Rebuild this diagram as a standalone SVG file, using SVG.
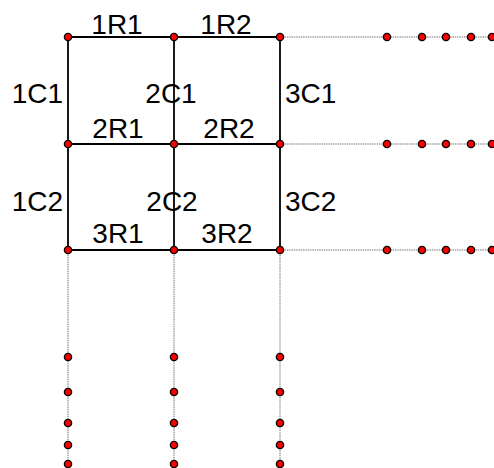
<svg xmlns="http://www.w3.org/2000/svg" width="494" height="468" viewBox="0 0 494 468">
<style>
.grid{stroke:#000;stroke-width:1.8;fill:none}
.ext{stroke:#777;stroke-width:1;stroke-dasharray:1.5 0.8;fill:none}
.dot{fill:#ff0000;stroke:#000;stroke-width:1.4}
text{font-family:"Liberation Sans",Arial,sans-serif;font-size:28px;fill:#000}
.m{text-anchor:middle}
.e{text-anchor:end}
</style>
<rect width="494" height="468" fill="#fff"/>
<g id="connectors">
<line class="ext" x1="280" y1="37" x2="494" y2="37"/>
<line class="ext" x1="280" y1="144" x2="494" y2="144"/>
<line class="ext" x1="280" y1="250" x2="494" y2="250"/>
<line class="ext" x1="68" y1="250" x2="68" y2="468"/>
<line class="ext" x1="174" y1="250" x2="174" y2="468"/>
<line class="ext" x1="280" y1="250" x2="280" y2="468"/>
<line class="grid" x1="68" y1="37" x2="280" y2="37"/>
<line class="grid" x1="68" y1="144" x2="280" y2="144"/>
<line class="grid" x1="68" y1="250" x2="280" y2="250"/>
<line class="grid" x1="68" y1="37" x2="68" y2="250"/>
<line class="grid" x1="174" y1="37" x2="174" y2="250"/>
<line class="grid" x1="280" y1="37" x2="280" y2="250"/>
<text class="m" x="117" y="34">1R1</text>
<text class="m" x="226" y="34">1R2</text>
<text class="m" x="118" y="138">2R1</text>
<text class="m" x="229" y="138">2R2</text>
<text class="m" x="118" y="243">3R1</text>
<text class="m" x="227" y="243">3R2</text>
<text class="e" x="63" y="103">1C1</text>
<text class="m" x="171" y="103">2C1</text>
<text x="285" y="103">3C1</text>
<text class="e" x="63" y="211">1C2</text>
<text class="m" x="172" y="211">2C2</text>
<text x="285" y="211">3C2</text>
</g>
<g id="n-r1c1"><circle class="dot" cx="68" cy="37" r="3.6"/></g>
<g id="n-r1c2"><circle class="dot" cx="174" cy="37" r="3.6"/></g>
<g id="n-r1c3"><circle class="dot" cx="280" cy="37" r="3.6"/></g>
<g id="n-r2c1"><circle class="dot" cx="68" cy="144" r="3.6"/></g>
<g id="n-r2c2"><circle class="dot" cx="174" cy="144" r="3.6"/></g>
<g id="n-r2c3"><circle class="dot" cx="280" cy="144" r="3.6"/></g>
<g id="n-r3c1"><circle class="dot" cx="68" cy="250" r="3.6"/></g>
<g id="n-r3c2"><circle class="dot" cx="174" cy="250" r="3.6"/></g>
<g id="n-r3c3"><circle class="dot" cx="280" cy="250" r="3.6"/></g>
<g id="n-right-r1"><circle class="dot" cx="387" cy="37" r="3.6"/><circle class="dot" cx="422" cy="37" r="3.6"/><circle class="dot" cx="446" cy="37" r="3.6"/><circle class="dot" cx="471" cy="37" r="3.6"/><circle class="dot" cx="492" cy="37" r="3.6"/></g>
<g id="n-right-r2"><circle class="dot" cx="387" cy="144" r="3.6"/><circle class="dot" cx="422" cy="144" r="3.6"/><circle class="dot" cx="446" cy="144" r="3.6"/><circle class="dot" cx="471" cy="144" r="3.6"/><circle class="dot" cx="492" cy="144" r="3.6"/></g>
<g id="n-right-r3"><circle class="dot" cx="387" cy="250" r="3.6"/><circle class="dot" cx="422" cy="250" r="3.6"/><circle class="dot" cx="446" cy="250" r="3.6"/><circle class="dot" cx="471" cy="250" r="3.6"/><circle class="dot" cx="492" cy="250" r="3.6"/></g>
<g id="n-bottom-c1"><circle class="dot" cx="68" cy="357" r="3.6"/><circle class="dot" cx="68" cy="392" r="3.6"/><circle class="dot" cx="68" cy="423" r="3.6"/><circle class="dot" cx="68" cy="445" r="3.6"/><circle class="dot" cx="68" cy="464" r="3.6"/></g>
<g id="n-bottom-c2"><circle class="dot" cx="174" cy="357" r="3.6"/><circle class="dot" cx="174" cy="392" r="3.6"/><circle class="dot" cx="174" cy="423" r="3.6"/><circle class="dot" cx="174" cy="445" r="3.6"/><circle class="dot" cx="174" cy="464" r="3.6"/></g>
<g id="n-bottom-c3"><circle class="dot" cx="280" cy="357" r="3.6"/><circle class="dot" cx="280" cy="392" r="3.6"/><circle class="dot" cx="280" cy="423" r="3.6"/><circle class="dot" cx="280" cy="445" r="3.6"/><circle class="dot" cx="280" cy="464" r="3.6"/></g>
</svg>
